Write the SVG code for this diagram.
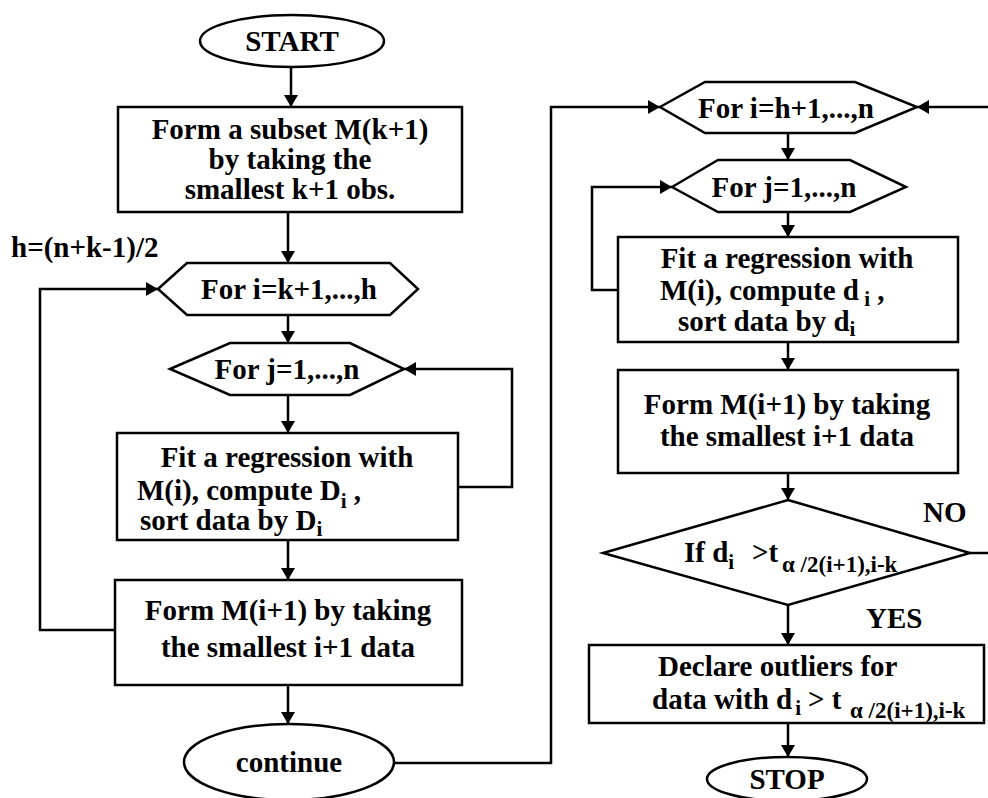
<svg xmlns="http://www.w3.org/2000/svg" width="988" height="798" viewBox="0 0 988 798">
<style>
.shape{fill:#fff;stroke:#000;stroke-width:2.5}
.edge{fill:none;stroke:#000;stroke-width:2.5}
.arr{marker-end:url(#ah)}
text{font-family:"Liberation Serif","Times New Roman",serif;font-weight:bold;font-size:29px;fill:#000}
.c{text-anchor:middle}
.sub{font-size:21px}
.sub2{font-size:23px}
</style>
<defs>
<marker id="ah" markerUnits="userSpaceOnUse" markerWidth="12" markerHeight="14" viewBox="0 0 12 14" refX="12" refY="7" orient="auto">
<path d="M0,0 L12,7 L0,14 z" fill="#000"/>
</marker>
</defs>
<rect width="988" height="798" fill="#fff"/>
<g id="connectors">
<line class="edge arr" x1="291" y1="67" x2="291" y2="107"/>
<line class="edge arr" x1="288" y1="212" x2="288" y2="263"/>
<line class="edge arr" x1="288" y1="315" x2="288" y2="343"/>
<line class="edge arr" x1="288" y1="395" x2="288" y2="433"/>
<polyline class="edge arr" points="458,487 512,487 512,369 404,369"/>
<line class="edge arr" x1="288" y1="540" x2="288" y2="580"/>
<polyline class="edge arr" points="116,630 40,630 40,289 158,289"/>
<line class="edge arr" x1="288" y1="685" x2="288" y2="724"/>
<polyline class="edge arr" points="394,763 551,763 551,107 660,107"/>
<line class="edge arr" x1="988" y1="107" x2="917" y2="107"/>
<line class="edge arr" x1="788" y1="133" x2="788" y2="160"/>
<line class="edge arr" x1="788" y1="212" x2="788" y2="237"/>
<polyline class="edge arr" points="618,290 592,290 592,187 672,187"/>
<line class="edge arr" x1="788" y1="342" x2="788" y2="370"/>
<line class="edge arr" x1="788" y1="473" x2="788" y2="500"/>
<line class="edge" x1="970" y1="553" x2="988" y2="553"/>
<line class="edge arr" x1="788" y1="605" x2="788" y2="645"/>
<line class="edge arr" x1="788" y1="723" x2="788" y2="757"/>
<text x="923" y="522">NO</text>
<text x="866" y="628">YES</text>
</g>
<g id="start">
<ellipse class="shape" cx="292" cy="41" rx="92" ry="26"/>
<text class="c" x="292" y="51">START</text>
</g>
<g id="form-subset">
<rect class="shape" x="118" y="107" width="344" height="105"/>
<text class="c" x="290" y="139">Form a subset M(k+1)</text>
<text class="c" x="290" y="169">by taking the</text>
<text class="c" x="290" y="199">smallest k+1 obs.</text>
</g>
<g id="h-label">
<text x="11" y="257">h=(n+k-1)/2</text>
</g>
<g id="loop-i1">
<polygon class="shape" points="158,289 187,263 390,263 418,289 390,315 187,315"/>
<text class="c" x="289" y="299">For i=k+1,...,h</text>
</g>
<g id="loop-j1">
<polygon class="shape" points="170,369 230,343 350,343 404,369 350,395 230,395"/>
<text class="c" x="287" y="379">For j=1,...,n</text>
</g>
<g id="fit1">
<rect class="shape" x="117" y="433" width="341" height="107"/>
<text class="c" x="287" y="467">Fit a regression with</text>
<text x="137" y="500">M(i), compute D<tspan class="sub" dy="8">i</tspan><tspan dy="-8">  ,</tspan></text>
<text x="140" y="530">sort data by D<tspan class="sub" dy="6">i</tspan></text>
</g>
<g id="form-m1">
<rect class="shape" x="115" y="580" width="347" height="105"/>
<text class="c" x="288" y="620">Form M(i+1) by taking</text>
<text class="c" x="288" y="657">the smallest i+1 data</text>
</g>
<g id="continue">
<ellipse class="shape" cx="289" cy="762" rx="105" ry="38"/>
<text class="c" x="289" y="772">continue</text>
</g>
<g id="loop-i2">
<polygon class="shape" points="660,107 705,82 855,82 917,107 855,133 705,133"/>
<text class="c" x="786" y="118">For i=h+1,...,n</text>
</g>
<g id="loop-j2">
<polygon class="shape" points="672,187 718,160 850,160 906,187 850,212 718,212"/>
<text class="c" x="784" y="197">For j=1,...,n</text>
</g>
<g id="fit2">
<rect class="shape" x="618" y="237" width="340" height="105"/>
<text class="c" x="787" y="268">Fit a regression with</text>
<text x="660" y="300">M(i), compute  d<tspan class="sub" dy="6"> i</tspan><tspan dy="-6"> ,</tspan></text>
<text x="678" y="331">sort data by d<tspan class="sub" dy="5">i</tspan></text>
</g>
<g id="form-m2">
<rect class="shape" x="618" y="370" width="340" height="103"/>
<text class="c" x="787" y="414">Form M(i+1) by taking</text>
<text class="c" x="787" y="446">the smallest i+1 data</text>
</g>
<g id="decision">
<polygon class="shape" points="788,500 970,553 788,605 603,553"/>
<text x="684" y="562">If d<tspan class="sub" dy="7">i</tspan><tspan x="752" dy="-7">&gt;t</tspan><tspan class="sub2" x="782" dy="10">α /2(i+1),i-k</tspan></text>
</g>
<g id="declare">
<rect class="shape" x="589" y="645" width="395" height="78"/>
<text x="658" y="676">Declare outliers for</text>
<text x="652" y="709">data with  d<tspan class="sub" dx="3" dy="6">i</tspan><tspan x="808" dy="-6">&gt; t</tspan><tspan class="sub2" x="850" dy="9">α /2(i+1),i-k</tspan></text>
</g>
<g id="stop">
<ellipse class="shape" cx="787" cy="779" rx="80" ry="22"/>
<text class="c" x="787" y="789">STOP</text>
</g>
</svg>
